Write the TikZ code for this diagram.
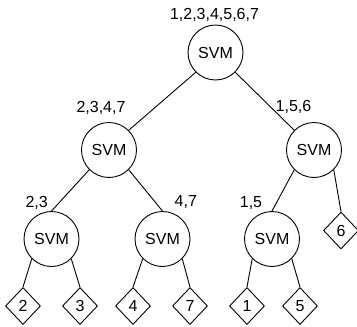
\documentclass[tikz,border=0pt]{standalone}
\usepackage{fontspec}
\setmainfont{Liberation Sans}
\usetikzlibrary{shapes.geometric}
\begin{document}
\begin{tikzpicture}[x=1pt,y=-1pt,
  svm/.style={circle,draw,line width=0.9pt,minimum size=55pt,inner sep=0pt,font=\fontsize{16}{16}\selectfont},
  leaf/.style={diamond,draw,line width=0.9pt,minimum width=35pt,minimum height=37pt,inner sep=0pt,font=\fontsize{16}{16}\selectfont},
  lbl/.style={inner sep=0pt,font=\fontsize{16}{16}\selectfont},
  edge/.style={line width=0.9pt}]
\useasboundingbox (0,0) rectangle (357,327);
% SVM nodes
\node[svm] (root) at (215.5,52.5) {SVM};
\node[svm] (L) at (109,150) {SVM};
\node[svm] (R) at (314,150) {SVM};
\node[svm] (LL) at (51.5,239) {SVM};
\node[svm] (LR) at (162.5,239) {SVM};
\node[svm] (RL) at (272,239) {SVM};
% leaves
\node[leaf] (d2) at (23,306) {2};
\node[leaf] (d3) at (80,306) {3};
\node[leaf] (d4) at (133,306) {4};
\node[leaf] (d7) at (190,306) {7};
\node[leaf] (d1) at (247,306) {1};
\node[leaf] (d5) at (300,306) {5};
\node[leaf] (d6) at (341,230.5) {6};
% labels
\node[lbl] (t0) at (214.5,15) {1,2,3,4,5,6,7};
\node[lbl] (t1) at (101,108) {2,3,4,7};
\node[lbl] (t2) at (293.5,107) {1,5,6};
\node[lbl] (t3) at (36.7,203) {2,3};
\node[lbl] (t4) at (185.8,202.5) {4,7};
\node[lbl] (t5) at (251,202.7) {1,5};
% edges
\draw[edge] (root.south west) -- (L.north east);
\draw[edge] (root.south east) -- (R.north west);
\draw[edge] (L.south west) -- (LL.north);
\draw[edge] (L.south east) -- (LR.north);
\draw[edge] (R.south west) -- (RL.north);
\draw[edge] (R.south east) -- (d6.north);
\draw[edge] (LL.south west) -- (d2.north);
\draw[edge] (LL.south east) -- (d3.north);
\draw[edge] (LR.south west) -- (d4.north);
\draw[edge] (LR.south east) -- (d7.north);
\draw[edge] (RL.south west) -- (d1.north);
\draw[edge] (RL.south east) -- (d5.north);
\end{tikzpicture}
\end{document}
